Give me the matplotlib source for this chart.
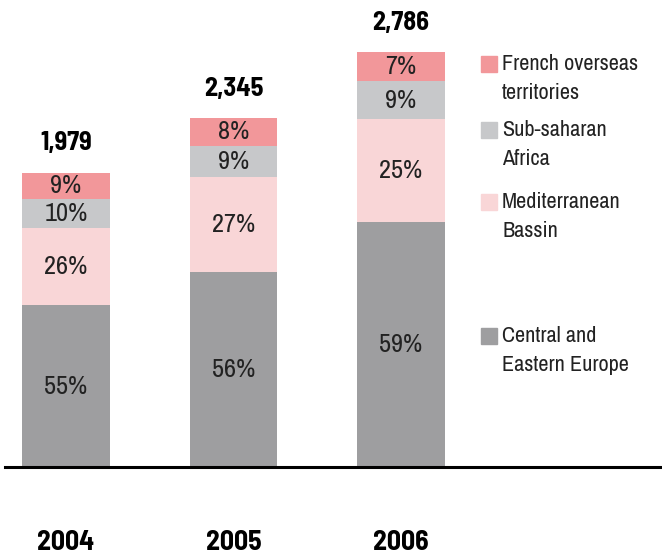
import numpy as np
import matplotlib.pyplot as plt
from matplotlib.patches import Rectangle

# 데이터
years = ['2004', '2005', '2006']
totals = [1979, 2345, 2786]
regions = ['Central and\nEastern Europe', 'Mediterranean\nBassin',
           'Sub-saharan\nAfrica', 'French overseas\nterritories']
central = [55, 56, 59]
mediterranean = [26, 27, 25]
subsaharan = [10, 9, 9]
overseas = [9, 8, 7]

colors = ['#9e9ea0', '#f9d6d7', '#c7c8ca', '#f2979a']

REG = ['Archivo Narrow', 'Liberation Sans Narrow', 'DejaVu Sans']
BOLD = ['Barlow Semi Condensed', 'Barlow Condensed', 'DejaVu Sans']
plt.rcParams['font.family'] = REG

W, H = 662, 556
fig = plt.figure(figsize=(W / 100, H / 100), dpi=100)
ax = fig.add_axes([5 / W, 89 / H, 657 / W, 467 / H])

x = np.arange(len(years))
tot = np.array(totals)
shares = [central, mediterranean, subsaharan, overseas]
bottom = np.zeros(len(years))
for share, c in zip(shares, colors):
    h = tot * np.array(share) / 100
    ax.bar(x, h, 0.525, bottom=bottom, color=c)
    for xi, b, hi, p in zip(x, bottom, h, share):
        ax.text(xi, b + hi / 2, f'{p}%', ha='center', va='center',
                fontsize=19, color='#222222')
    bottom = bottom + h

# 합계 라벨
for xi, t in zip(x, totals):
    ax.annotate(f'{t:,}', (xi, t), xytext=(0, 21), textcoords='offset points',
                ha='center', va='center', fontsize=19, fontweight='bold',
                family=BOLD)

ax.set_xlim(-0.364, 3.558)
ax.set_ylim(0, 467 * 6.72)
ax.set_xticks(x)
ax.set_xticklabels(years, fontsize=20, fontweight='bold', family=BOLD)
ax.tick_params(axis='x', length=0, pad=45)
ax.set_yticks([])
for s in ['top', 'left', 'right']:
    ax.spines[s].set_visible(False)
ax.spines['bottom'].set_linewidth(2.2)

# 범례 (수동 배치)
leg_y = [64, 130, 202, 336]
for y, lab, c in zip(leg_y, regions[::-1], colors[::-1]):
    fig.patches.append(Rectangle((481 / W, 1 - (y + 8) / H), 16 / W, 16 / H,
                                 color=c, transform=fig.transFigure))
    fig.text(502 / W, 1 - (y - 10) / H, lab, ha='left', va='top',
             fontsize=16, linespacing=1.55, color='#222222')

fig.savefig('out.png', dpi=100)
